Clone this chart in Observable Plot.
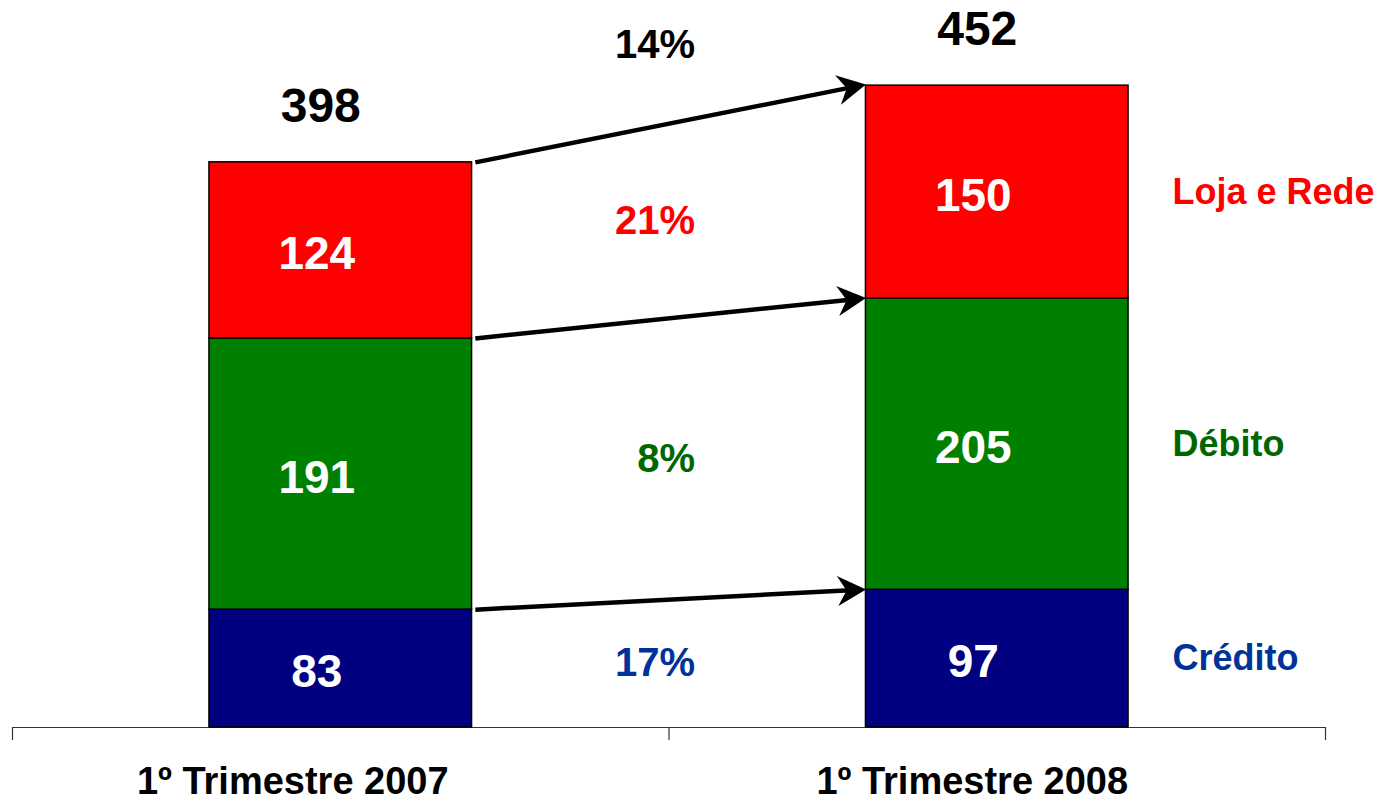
<!DOCTYPE html>
<html>
<head>
<meta charset="utf-8">
<script src="https://cdn.jsdelivr.net/npm/d3@7"></script>
<script src="https://cdn.jsdelivr.net/npm/@observablehq/plot@0.6"></script>
<style>
  html, body { margin: 0; padding: 0; background: #ffffff; }
  #chart svg { display: block; }
</style>
</head>
<body>
<div id="chart"></div>
<script>
// ---- Data ----
const periods = ["1º Trimestre 2007", "1º Trimestre 2008"];
const series = ["Crédito", "Débito", "Loja e Rede"];
const credito = [83, 97];
const debito = [191, 205];
const loja = [124, 150];
const totals = [398, 452];
const seriesGrowth = ["17%", "8%", "21%"];
const totalGrowth = "14%";
const barColors = ["#000080", "#008000", "#FF0000"];
const labelColors = ["#003399", "#006600", "#FF0000"];

// ---- Build stacked table ----
const values = [credito, debito, loja];
const rows = [];
periods.forEach((p, i) => {
  let acc = 0;
  series.forEach((s, k) => {
    const v = values[k][i];
    rows.push({i, period: p, series: s, k, value: v, y1: acc, y2: acc + v});
    acc += v;
  });
});
const get = (i, k) => rows.find(r => r.i === i && r.k === k);
const mid = r => (r.y1 + r.y2) / 2;

// arrows connect stacked boundaries of the two bars
const arrows = series.map((s, k) => ({y1: get(0, k).y2, y2: get(1, k).y2}));
// growth labels placed between bars at the average segment mid
const growthRows = series.map((s, k) => ({
  k, text: seriesGrowth[k], y: (mid(get(0, k)) + mid(get(1, k))) / 2, color: labelColors[k]
}));
const totalRows = periods.map((p, i) => ({i, total: totals[i]}));
const seriesLabelRows = series.map((s, k) => ({k, text: s, y: mid(get(1, k)), color: labelColors[k]}));
const periodRows = periods.map((p, i) => ({i, text: p}));

const FONT = "'Liberation Sans', Arial, Helvetica, sans-serif";

const chart = Plot.plot({
  width: 1382,
  height: 802,
  marginLeft: 12,
  marginRight: 57,
  marginTop: 17,
  marginBottom: 75,
  style: {fontFamily: FONT, background: "#ffffff"},
  x: {type: "linear", domain: [0, 2], axis: null},
  y: {domain: [0, 500], axis: null},
  color: {domain: series, range: barColors},
  marks: [
    Plot.axisX({ticks: [0, 1, 2], tickSize: 13, tickFormat: () => "", label: null, stroke: "#333333", strokeWidth: 1.2}),
    Plot.ruleY([0], {stroke: "#333333", strokeWidth: 1.2}),
    Plot.rect(rows, {
      x1: d => d.i + 0.3, x2: d => d.i + 0.7,
      y1: "y1", y2: "y2",
      fill: "series", stroke: "#000000", strokeWidth: 1.5
    }),
    Plot.link(arrows, {
      x1: 0.705, x2: 1.291, y1: "y1", y2: "y2",
      stroke: "#000000", strokeWidth: 4.5, markerEnd: "arrow"
    }),
    Plot.text(rows, {
      x: d => d.i + 0.5, y: d => mid(d), text: d => String(d.value),
      fill: "#ffffff", fontSize: 46, fontWeight: "bold", fontFamily: FONT, dx: -24, dy: 4
    }),
    Plot.text(totalRows, {
      x: d => d.i + 0.5, y: "total", text: d => String(d.total),
      fill: "#000000", fontSize: 48, fontWeight: "bold", fontFamily: FONT, dx: -20, dy: -56
    }),
    Plot.text(growthRows, {
      x: 1, y: "y", text: "text", fill: d => d.color,
      textAnchor: "end", dx: 26, fontSize: 40, fontWeight: "bold", fontFamily: FONT
    }),
    Plot.text([totalGrowth], {
      x: 1, y: () => d3.max(totals), text: d => d,
      fill: "#000000", textAnchor: "end", dx: 26, dy: -40, fontSize: 40, fontWeight: "bold", fontFamily: FONT
    }),
    Plot.text(seriesLabelRows, {
      x: 1.767, y: "y", text: "text", fill: d => d.color,
      textAnchor: "start", fontSize: 36, fontWeight: "bold", fontFamily: FONT
    }),
    Plot.text(periodRows.filter(d => d.i === 0), {
      x: d => d.i + 0.5, y: 0, text: "text", dx: -48, dy: 54,
      fill: "#000000", fontSize: 38, fontWeight: "bold", fontFamily: FONT
    }),
    Plot.text(periodRows.filter(d => d.i === 1), {
      x: d => d.i + 0.5, y: 0, text: "text", dx: -25, dy: 54,
      fill: "#000000", fontSize: 38, fontWeight: "bold", fontFamily: FONT
    })
  ]
});

// Replace the open chevron markers with filled stealth arrowheads
chart.querySelectorAll("marker").forEach(m => {
  m.setAttribute("viewBox", "-8 -5 10 10");
  m.setAttribute("markerWidth", "6.67");
  m.setAttribute("markerHeight", "6.67");
  m.setAttribute("fill", "#000000");
  m.setAttribute("stroke", "none");
  const p = m.querySelector("path");
  if (p) {
    p.setAttribute("d", "M2,0L-7.5,-5L-4.5,0L-7.5,5Z");
    p.setAttribute("fill", "#000000");
    p.setAttribute("stroke", "none");
  }
});

document.getElementById("chart").appendChild(chart);
</script>
</body>
</html>
